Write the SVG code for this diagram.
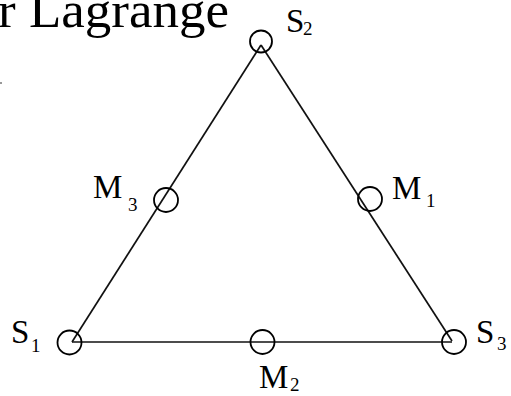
<svg xmlns="http://www.w3.org/2000/svg" width="511" height="396" viewBox="0 0 511 396">
<style>
.lbl{font-family:"Liberation Serif","Times New Roman",serif;font-size:33px;fill:#000}
.sub{font-family:"Liberation Serif","Times New Roman",serif;font-size:19px;fill:#000}
.node{fill:none;stroke:#000;stroke-width:1.8}
.edge{stroke:#111;stroke-width:1.7;fill:none}
</style>
<rect width="511" height="396" fill="#fff"/>
<text x="-2" y="27" font-family="Liberation Serif, Times New Roman, serif" font-size="50" fill="#000" textLength="231" lengthAdjust="spacingAndGlyphs">r Lagrange</text>
<line x1="0" y1="83" x2="2" y2="83" stroke="#333" stroke-width="1"/>
<g id="connectors">
<line class="edge" x1="72" y1="342" x2="261" y2="45"/>
<line class="edge" x1="261" y1="45" x2="452" y2="341"/>
<line class="edge" x1="72" y1="342" x2="452" y2="342" stroke="#555" stroke-width="2.2"/>
</g>
<g id="S2"><circle class="node" cx="261" cy="41.5" r="11"/><text class="lbl" x="286" y="32">S</text><text class="sub" x="303" y="35">2</text></g>
<g id="S1"><circle class="node" cx="69.5" cy="342.5" r="12"/><text class="lbl" x="11" y="343">S</text><text class="sub" x="31" y="352">1</text></g>
<g id="S3"><circle class="node" cx="454" cy="342" r="12"/><text class="lbl" x="476" y="343">S</text><text class="sub" x="497" y="350">3</text></g>
<g id="M1"><circle class="node" cx="370" cy="199" r="12"/><text class="lbl" x="392" y="199">M</text><text class="sub" x="426" y="207">1</text></g>
<g id="M2"><circle class="node" cx="262.5" cy="342" r="12"/><text class="lbl" x="259" y="388">M</text><text class="sub" x="290" y="391">2</text></g>
<g id="M3"><circle class="node" cx="166" cy="200" r="12"/><text class="lbl" x="93" y="198">M</text><text class="sub" x="128" y="211">3</text></g>
</svg>
